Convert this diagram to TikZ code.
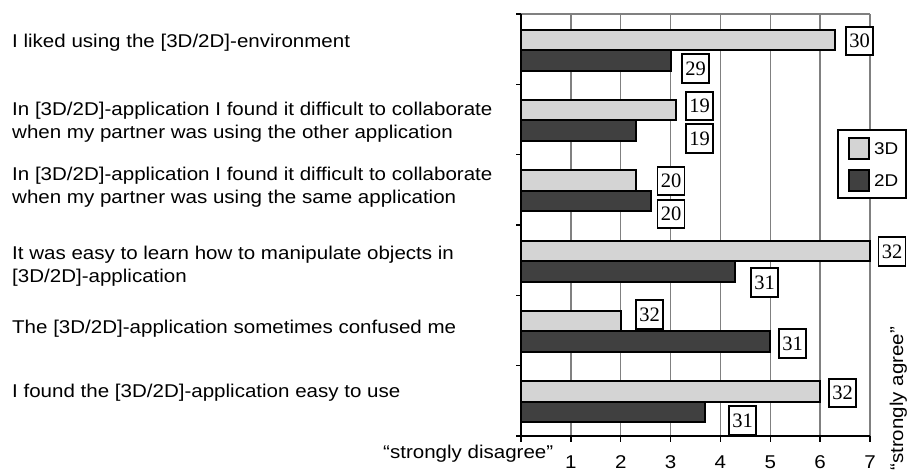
\documentclass[tikz,border=0pt]{standalone}
\usepackage{fontspec}
\setmainfont{Liberation Sans}[FakeStretch=1.11]
\newfontfamily\countfont{Liberation Serif}
\definecolor{bar3d}{RGB}{212,212,212}
\definecolor{bar2d}{RGB}{64,64,64}
\definecolor{gridgray}{RGB}{128,128,128}
\tikzset{
  gridline/.style={draw=gridgray, line width=1.4pt},
  axisline/.style={draw=black, line width=1.4pt},
  barline/.style={draw=black, line width=2pt},
  question/.style={anchor=base west, inner sep=0pt, font=\fontsize{18.5}{23.5}\selectfont},
  axislabel/.style={inner sep=0pt, font=\fontsize{18.5}{22}\selectfont},
  countbox/.style={draw=black, line width=1.8pt, fill=white, inner sep=0pt,
    minimum width=27pt, minimum height=28.5pt, font=\countfont\fontsize{20.5}{22}\selectfont},
  legendbox/.style={draw=black, line width=1.8pt, fill=white, inner sep=0pt,
    minimum width=68pt, minimum height=68pt},
  swatch/.style={draw=black, line width=1.8pt, inner sep=0pt,
    minimum width=20pt, minimum height=21pt},
  legendtext/.style={anchor=west, inner sep=0pt, font=\fontsize{17}{20}\selectfont},
}
\newcommand{\twolines}[2]{\vtop{\hbox{#1}\hbox{#2}}}
\begin{document}
\begin{tikzpicture}[x=1pt, y=-1pt]
\useasboundingbox (0,0) rectangle (907,472);

% statements
\node[question] (q1) at (12,47) {I liked using the [3D/2D]-environment};
\node[question] (q2) at (12,115) {\twolines{In [3D/2D]-application I found it difficult to collaborate}{when my partner was using the other application}};
\node[question] (q3) at (12,180) {\twolines{In [3D/2D]-application I found it difficult to collaborate}{when my partner was using the same application}};
\node[question] (q4) at (12,259) {\twolines{It was easy to learn how to manipulate objects in}{[3D/2D]-application}};
\node[question] (q5) at (12,333) {The [3D/2D]-application sometimes confused me};
\node[question] (q6) at (12,397) {I found the [3D/2D]-application easy to use};

% plot area: one x unit is one scale step
\begin{scope}[xshift=521pt, x=49.857pt]
  \foreach \v in {1,...,7} \draw[gridline] (\v,14) -- (\v,436);
  \draw[gridline] (0,14) -- (7,14);
  \foreach \k/\a/\b in {0/6.3/3.0, 1/3.1/2.3, 2/2.3/2.6, 3/7.0/4.3, 4/2.0/5.0, 5/6.0/3.7} {
    \pgfmathsetmacro\t{14+70.333*\k}
    \draw[barline, fill=bar3d] (0,{\t+15.5}) rectangle (\a,{\t+36});
    \draw[barline, fill=bar2d] (0,{\t+36}) rectangle (\b,{\t+56.5});
  }
  \draw[axisline] (0,14) -- (0,436) -- (7,436);
  \foreach \k in {0,...,6} {
    \pgfmathsetmacro\t{14+70.333*\k}
    \draw[axisline] (0,\t) -- (-0.1,\t);
  }
  \foreach \v in {0,...,7} \draw[axisline] (\v,436) -- (\v,442);
  \foreach \v in {1,...,7} \node[axislabel, anchor=base] (n\v) at (\v,468) {\v};
\end{scope}

% respondent counts
\node[countbox] (c1a) at (859.5,41) {30};
\node[countbox] (c1b) at (695.5,68.5) {29};
\node[countbox] (c2a) at (699.5,106) {19};
\node[countbox] (c2b) at (699.5,138.5) {19};
\node[countbox] (c3a) at (671,181) {20};
\node[countbox] (c3b) at (671,214) {20};
\node[countbox] (c4a) at (892,251.5) {32};
\node[countbox] (c4b) at (764.5,282.5) {31};
\node[countbox] (c5a) at (649.5,314.5) {32};
\node[countbox] (c5b) at (792.5,343.5) {31};
\node[countbox] (c6a) at (842.5,393) {32};
\node[countbox] (c6b) at (742.5,420.5) {31};

% legend
\node[legendbox] (legend) at (872,164) {};
\node[swatch, fill=bar3d] (sw3d) at (859,148.5) {};
\node[swatch, fill=bar2d] (sw2d) at (859,180.5) {};
\node[legendtext] (l3d) at (874,149) {3D};
\node[legendtext] (l2d) at (874,181) {2D};

% scale end labels
\node[axislabel, anchor=base west] (disagree) at (383,458) {“strongly disagree”};
\node[axislabel, anchor=base west, rotate=90] (agree) at (903,471) {“strongly agree”};
\end{tikzpicture}
\end{document}
